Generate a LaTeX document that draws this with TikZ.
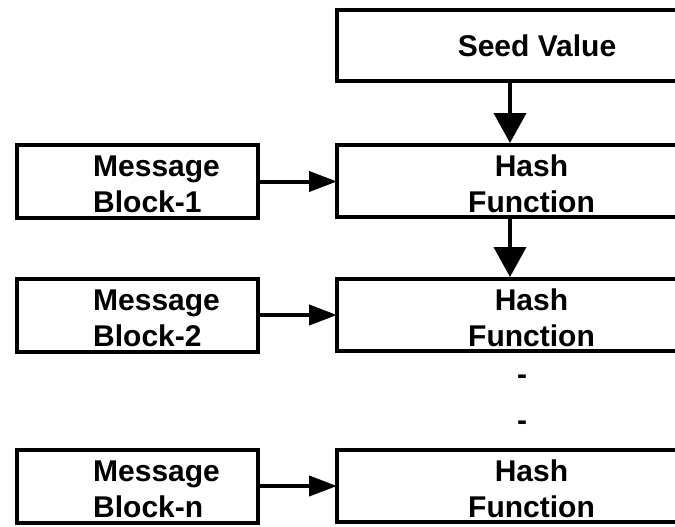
\documentclass[tikz,border=0pt]{standalone}
\usepackage{fontspec}
\setmainfont{Liberation Sans}
\usetikzlibrary{arrows.meta,calc}
\begin{document}
\begin{tikzpicture}[x=1pt,y=-1pt,
  box/.style={draw,line width=4pt,rectangle,inner sep=0pt,outer sep=0pt},
  hashbox/.style={box,minimum width=403pt,minimum height=72pt},
  msgbox/.style={box,minimum width=241pt,minimum height=73pt},
  lbl/.style={font=\fontsize{30}{36}\selectfont\bfseries,inner sep=0pt,align=center},
  msglbl/.style={lbl,align=left,anchor=west},
  flow/.style={line width=4pt,-{Triangle[length=30pt,width=32pt]}},
  feed/.style={line width=4pt,-{Triangle[length=28pt,width=20pt]}}]
\useasboundingbox (0,0) rectangle (675,527);
\clip (0,0) rectangle (675,527);

% hash chain on the right
\node[box,minimum width=403pt,minimum height=71pt] (seed) at (538.5,45.5) {};
\node[lbl] at (537,46) {Seed Value};
\node[hashbox] (h1) at (538.5,181) {};
\node[hashbox] (h2) at (538.5,315) {};
\node[hashbox] (h3) at (538.5,486) {};
\foreach \n in {h1,h2,h3}
  \node[lbl] at ($(\n.center)+(-7,3)$) {Hash\\Function};

% message blocks on the left
\node[msgbox] (m1) at (137.5,181.5) {};
\node[msgbox] (m2) at (137.5,315) {};
\node[msgbox] (m3) at (137.5,486) {};
\node[msglbl] at (93,184) {Message\\Block-1};
\node[msglbl] at (93,318) {Message\\Block-2};
\node[msglbl] at (93,489) {Message\\Block-n};

% ellipsis between the second and last stage
\node[lbl] (d1) at (522,380) {-};
\node[lbl] (d2) at (522,426) {-};

% connectors
\coordinate (s1) at (510,83);
\coordinate (t1) at (510,143);
\coordinate (s2) at (510,219);
\coordinate (t2) at (510,277);
\draw[flow] (s1) -- (t1);
\draw[flow] (s2) -- (t2);
\draw[feed] (m1.east) -- (m1.east -| h1.west);
\draw[feed] (m2.east) -- (m2.east -| h2.west);
\draw[feed] (m3.east) -- (m3.east -| h3.west);
\end{tikzpicture}
\end{document}
